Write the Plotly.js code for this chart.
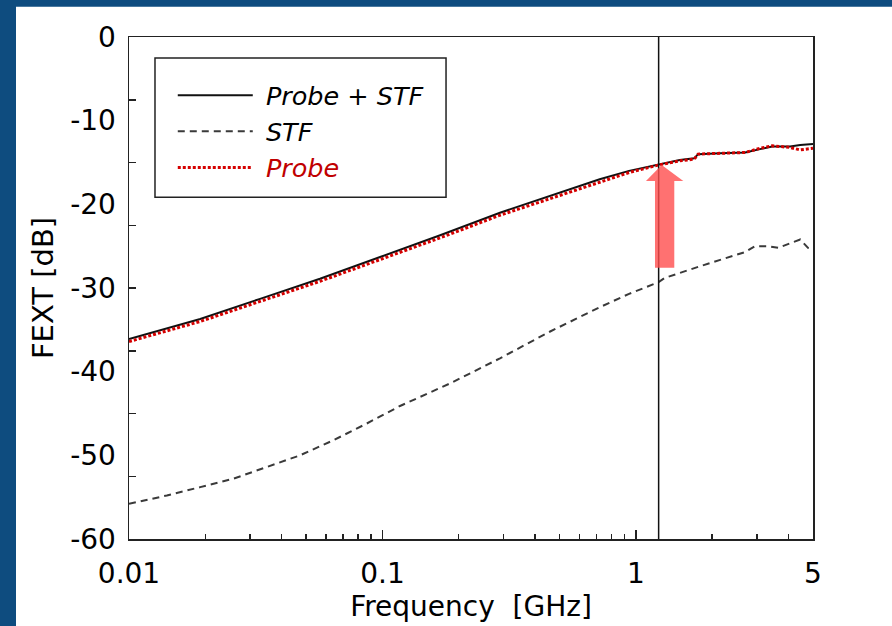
<!DOCTYPE html>
<html>
<head>
<meta charset="utf-8">
<script src="https://cdn.plot.ly/plotly-3.0.1.min.js"></script>
<style>
  html, body { margin: 0; padding: 0; background: #0e4c7f; }
  #chart { width: 892px; height: 626px; }
</style>
</head>
<body>
<div id="chart"></div>
<script>
// ---- data ----
const mainFreq = [0.01, 0.0191, 0.0329, 0.0567, 0.0979, 0.169, 0.291, 0.502, 0.72, 0.94, 1.23, 1.49, 1.70, 1.76, 2.15, 2.70, 3.09, 3.45, 4.06, 4.45, 5.0];
const probeStf = [-36.1, -33.7, -31.3, -28.9, -26.3, -23.7, -21.0, -18.6, -17.0, -16.0, -15.2, -14.7, -14.5, -14.0, -13.9, -13.8, -13.4, -13.1, -13.1, -12.9, -12.8];
const probe    = [-36.4, -34.0, -31.6, -29.2, -26.6, -24.0, -21.3, -18.9, -17.3, -16.2, -15.3, -14.8, -14.6, -14.0, -13.9, -13.8, -13.3, -13.0, -13.2, -13.5, -13.3];

const stfFreq = [0.01, 0.0141, 0.0191, 0.0258, 0.0349, 0.0473, 0.064, 0.0867, 0.1173, 0.185, 0.291, 0.459, 0.72, 0.94, 1.23, 1.30, 1.79, 2.70, 2.95, 3.33, 3.65, 4.45, 4.78, 5.0];
const stf     = [-55.8, -54.8, -53.8, -52.8, -51.4, -50.0, -48.2, -46.2, -44.1, -41.4, -38.4, -35.2, -32.3, -30.7, -29.3, -28.8, -27.4, -25.7, -25.0, -25.0, -25.2, -24.2, -25.2, -25.4];

const seriesNames = ['Probe + STF', 'STF', 'Probe'];
const markerFreq = 1.23;  // vertical marker line [GHz]

const xTickVals = [0.01, 0.1, 1, 5];
const xTickText = ['0.01', '0.1', '1', '5'];
const xMinorVals = [0.02, 0.03, 0.04, 0.05, 0.06, 0.07, 0.08, 0.09, 0.2, 0.3, 0.4, 0.5, 0.6, 0.7, 0.8, 0.9, 2, 3, 4];
const yTickVals = [0, -10, -20, -30, -40, -50, -60];
const yTickText = ['0', '-10', '-20', '-30', '-40', '-50', '-60'];
const yMinorVals = [-7.5, -15, -22.5, -30, -37.5, -45, -52.5];

const FONT = 'DejaVu Sans, Liberation Sans, Arial, sans-serif';
const NB = '\u00a0';
const PAD4 = NB + NB + NB + NB;

const traces = [
  { x: mainFreq, y: probeStf, name: NB + seriesNames[0], mode: 'lines',
    line: { color: '#111111', width: 2 } },
  { x: stfFreq, y: stf, name: NB + seriesNames[1], mode: 'lines',
    line: { color: '#3a3a3a', width: 2, dash: '7px,5px' } },
  { x: mainFreq, y: probe, name: NB + '<span style="color:#c00000">' + seriesNames[2] + '</span>', mode: 'lines',
    line: { color: '#d40000', width: 3, dash: '3px,2px' } }
];

const layout = {
  width: 892, height: 626,
  margin: { l: 129, r: 79, t: 37, b: 87 },
  paper_bgcolor: '#0e4c7f',
  plot_bgcolor: '#ffffff',
  font: { family: FONT, color: '#000000', size: 28 },
  showlegend: true,
  legend: {
    x: 0.064, y: 0.93, xanchor: 'left', yanchor: 'top',
    bgcolor: 'rgba(0,0,0,0)', borderwidth: 0,
    font: { family: FONT, size: 25.5, style: 'italic', color: '#000000' },
    itemwidth: 75, tracegroupgap: 0
  },
  xaxis: {
    type: 'log', range: [-2, Math.log10(5)],
    tickmode: 'array', tickvals: xTickVals, ticktext: xTickText,
    ticks: 'inside', ticklen: 9, tickwidth: 1.5, tickcolor: '#222',
    showgrid: false, zeroline: false,
    showline: true, mirror: true, linecolor: '#222', linewidth: 1.5,
    ticklabelstandoff: 9,
    tickfont: { family: FONT, size: 28, color: '#000' },
    minor: { tickmode: 'array', tickvals: xMinorVals, ticks: 'inside', ticklen: 5, tickwidth: 1.5, tickcolor: '#222', showgrid: false },
    title: { text: 'Frequency' + NB + ' [GHz]' + PAD4, font: { family: FONT, size: 28, color: '#000' }, standoff: 2 }
  },
  yaxis: {
    range: [-60, 0],
    tickmode: 'array', tickvals: yTickVals, ticktext: yTickText,
    ticks: '', showgrid: false, zeroline: false,
    showline: true, mirror: true, linecolor: '#222', linewidth: 1.5,
    ticklabelstandoff: 6,
    tickfont: { family: FONT, size: 28, color: '#000' },
    minor: { tickmode: 'array', tickvals: yMinorVals, ticks: 'inside', ticklen: 7, tickwidth: 1.5, tickcolor: '#222', showgrid: false },
    title: { text: 'FEXT [dB]' + PAD4, font: { family: FONT, size: 29, color: '#000' }, standoff: 8 }
  },
  shapes: [
    // white panel over the blue backdrop
    { type: 'rect', xref: 'paper', yref: 'paper', x0: -0.1652, x1: 1.12, y0: -0.18, y1: 1.0604,
      fillcolor: '#ffffff', line: { width: 0 }, layer: 'below' },
    // legend frame
    { type: 'rect', xref: 'paper', yref: 'paper', x0: 0.0380, x1: 0.4635, y0: 0.6809, y1: 0.9581,
      fillcolor: 'rgba(0,0,0,0)', line: { color: '#222', width: 1.5 }, layer: 'above' },
    // vertical marker line
    { type: 'line', xref: 'x', yref: 'paper', x0: markerFreq, x1: markerFreq, y0: 0, y1: 1,
      line: { color: '#111', width: 1.5 }, layer: 'above' },
    // red up-arrow
    { type: 'path', xref: 'paper', yref: 'paper',
      path: 'M 0.7690 0.5405 L 0.7972 0.5405 L 0.7972 0.7133 L 0.8104 0.7133 L 0.7788 0.7451 L 0.7558 0.7133 L 0.7690 0.7133 Z',
      fillcolor: '#ff4d4d', opacity: 0.8, line: { width: 0 }, layer: 'above' }
  ]
};

Plotly.newPlot('chart', traces, layout, { displayModeBar: false, staticPlot: true });
</script>
</body>
</html>
